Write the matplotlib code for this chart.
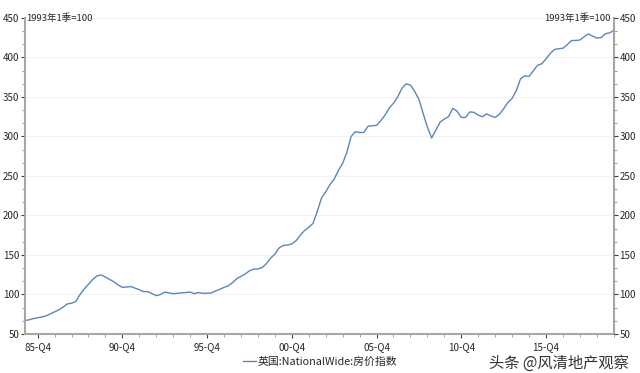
import matplotlib
matplotlib.use("Agg")
import matplotlib.pyplot as plt
from matplotlib.ticker import MultipleLocator, FixedLocator

plt.rcParams['font.family'] = ['Noto Sans CJK SC', 'DejaVu Sans']

# Quarterly index, 1985Q1 .. 2019Q4 (1993Q1 = 100)
values = [
    67, 68, 69.5, 70.5,            # 1985
    71.5, 73, 75.5, 78,            # 1986
    80.5, 84, 88, 89,              # 1987
    91, 100, 107, 113,             # 1988
    119, 123.5, 124.7, 122,        # 1989
    119, 116, 112, 109,            # 1990
    109.5, 110, 108, 106,          # 1991
    103.6, 103.6, 101, 98.5,       # 1992
    100, 103, 102, 101,            # 1993
    101.5, 102, 102.5, 103,        # 1994
    101, 102.5, 101.5, 101.5,      # 1995
    102, 104.5, 106.5, 109,        # 1996
    111, 115, 120, 123,            # 1997
    126, 130, 132, 132.3,          # 1998
    134, 139, 146, 151,            # 1999
    159, 162, 162.5, 164,          # 2000
    168, 175, 181, 185,            # 2001
    190, 205, 222, 230,            # 2002
    239, 246, 257, 266,            # 2003
    280, 300, 306, 305,            # 2004
    305, 313, 313.5, 314,          # 2005
    320, 327, 336, 342,            # 2006
    350, 361, 366.5, 365,          # 2007
    357, 347, 329, 312,            # 2008
    298, 308, 318, 322,            # 2009
    325, 335.5, 332, 324,          # 2010
    324, 331, 330.5, 327,          # 2011
    325, 328.5, 326, 324,          # 2012
    328, 335, 343, 348,            # 2013
    358, 373, 376.6, 376,          # 2014
    383, 390, 392, 398,            # 2015
    405, 410, 411, 411.6,          # 2016
    416, 421.3, 421.5, 422,        # 2017
    426, 429.7, 427, 424.5,        # 2018
    425, 430, 431, 434,            # 2019
]
tick_labels = ["85-Q4", "90-Q4", "95-Q4", "00-Q4", "05-Q4", "10-Q4", "15-Q4"]
tick_positions = [3, 23, 43, 63, 83, 103, 123]   # quarter index from 1985Q1
y_ticks = [50, 100, 150, 200, 250, 300, 350, 400, 450]
series_name = "英国:NationalWide:房价指数"
unit_label = "1993年1季=100"

fig = plt.figure(figsize=(6.4, 3.73), dpi=100)
ax = fig.add_axes([0.039, 0.1046, 0.920, 0.8474])
x = list(range(len(values)))
line, = ax.plot(x, values, color='#5b86bd', linewidth=1.0, label=series_name)

ax.set_xlim(0, len(values) - 1)
ax.set_ylim(50, 450)
ax.set_yticks(y_ticks)
ax.yaxis.set_minor_locator(MultipleLocator(50 / 3))
ax.set_xticks(tick_positions)
ax.set_xticklabels(tick_labels)
ax.xaxis.set_minor_locator(FixedLocator(list(range(3, len(values), 4))))

ax.grid(axis='y', color='#f2f2f2', linewidth=0.8)
ax.set_axisbelow(True)

spine_c = '#a6a6a6'
for s in ['left', 'right', 'bottom']:
    ax.spines[s].set_color(spine_c)
    ax.spines[s].set_linewidth(1.5)
ax.spines['top'].set_visible(False)

ax2 = ax.twinx()
ax2.set_ylim(50, 450)
ax2.set_yticks(y_ticks)
ax2.yaxis.set_minor_locator(MultipleLocator(50 / 3))
for a in (ax, ax2):
    a.tick_params(axis='both', which='major', labelsize=7, colors='#404040',
                  labelcolor='#262626', length=3, width=0.8, pad=1)
    a.tick_params(axis='both', which='minor', length=2, width=0.6, colors='#909090')
for s in ax2.spines.values():
    s.set_visible(False)
ax.tick_params(axis='x', pad=3)

ax.text(0.002, 1.0, unit_label, transform=ax.transAxes, ha='left', va='center',
        fontsize=6.8, color='#262626')
ax.text(0.995, 1.0, unit_label, transform=ax.transAxes, ha='right', va='center',
        fontsize=6.8, color='#262626')

fig.legend(handles=[line], labels=[series_name], loc='center',
           bbox_to_anchor=(0.5, 0.03), frameon=False, fontsize=7.8,
           handlelength=1.2, handletextpad=0.2, labelcolor='#262626')

fig.text(0.982, 0.027, "头条 @风清地产观察", ha='right', va='center', fontsize=11,
         color='#333333')

fig.savefig("out.png", dpi=100)
